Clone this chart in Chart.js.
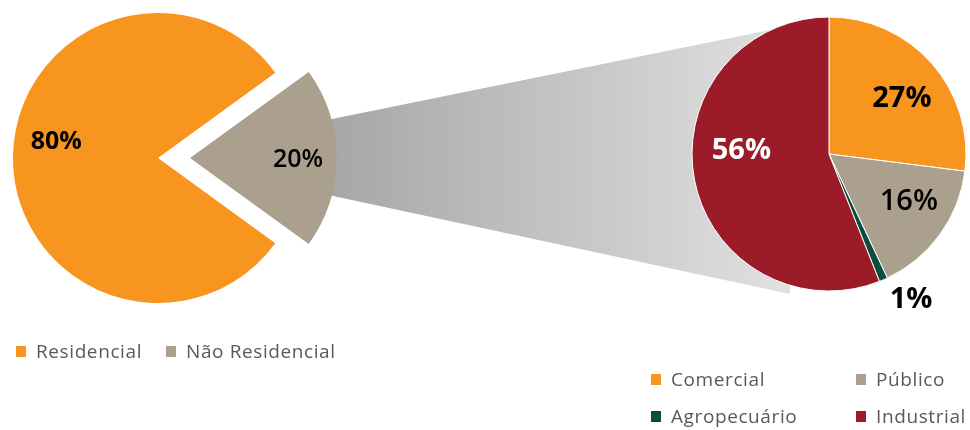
<!DOCTYPE html>
<html>
<head>
<script src="https://cdn.jsdelivr.net/npm/chart.js"></script>
<style>
  body { margin: 0; background: #fff; font-family: 'Open Sans', sans-serif; }
  #wrap { position: relative; width: 970px; height: 430px; overflow: hidden; }
  canvas { position: absolute; left: 0; top: 0; }
  .legend { position: absolute; font-size: 19px; letter-spacing: 0.6px; color: #595959; white-space: nowrap; }
  .item { position: absolute; display: flex; align-items: center; }
  .sw { width: 10px; height: 11px; margin-right: 10px; }
</style>
</head>
<body>
<div id="wrap">
  <canvas id="leftChart" width="970" height="430"></canvas>
  <canvas id="rightChart" width="970" height="430"></canvas>
  <div class="legend" id="leftLegend"></div>
  <div class="legend" id="rightLegend"></div>
</div>
<script>
  // totais: residencial x nao residencial
  var mainLabels = ['Residencial', 'Não Residencial'];
  var mainValues = [80, 20];
  var mainColors = ['#f7951e', '#aba08d'];

  // abertura do nao residencial
  var subLabels = ['Comercial', 'Público', 'Agropecuário', 'Industrial'];
  var subValues = [27, 16, 1, 56];
  var subColors = ['#f7951e', '#aba08d', '#0b4d3f', '#9b1b29'];

  // chart.js desloca a fatia em offset/4 pixels
  function shift(chart, i) {
    var o = chart.data.datasets[0].offset;
    return o ? (o[i] || 0) / 4 : 0;
  }

  // rotulos de porcentagem
  var pctLabels = {
    id: 'pctLabels',
    afterDatasetsDraw: function(chart, args, opts) {
      var ctx = chart.ctx;
      var meta = chart.getDatasetMeta(0);
      var data = chart.data.datasets[0].data;
      var total = data.reduce(function(a, b) { return a + b; }, 0);
      meta.data.forEach(function(arc, i) {
        var p = opts.pos[i];
        var off = shift(chart, i);
        var mid = (arc.startAngle + arc.endAngle) / 2;
        var cx = arc.x + Math.cos(mid) * off;
        var cy = arc.y + Math.sin(mid) * off;
        var a = mid + p[1] * Math.PI / 180;
        var r = arc.outerRadius * p[0];
        ctx.save();
        ctx.font = opts.weight[i] + ' ' + opts.size + 'px "Open Sans"';
        ctx.fillStyle = opts.color[i];
        ctx.textAlign = 'center';
        ctx.textBaseline = 'middle';
        ctx.fillText(Math.round(data[i] / total * 100) + '%', cx + Math.cos(a) * r, cy + Math.sin(a) * r);
        ctx.restore();
      });
    }
  };

  var rightChart = new Chart(document.getElementById('rightChart'), {
    type: 'pie',
    data: {
      labels: subLabels,
      datasets: [{
        data: subValues,
        backgroundColor: subColors,
        borderColor: '#ffffff',
        borderWidth: 1,
        clip: false
      }]
    },
    options: {
      responsive: false,
      animation: false,
      events: [],
      radius: 137,
      layout: { padding: { left: 692, right: 4, top: 17, bottom: 139 } },
      plugins: {
        legend: { display: false },
        tooltip: { enabled: false },
        pctLabels: {
          size: 29,
          pos: [[0.67, 4], [0.68, -5], [1.22, -6], [0.64, 13]],
          weight: ['bold', '600', 'bold', 'bold'],
          color: ['#000', '#000', '#000', '#fff']
        }
      }
    },
    plugins: [pctLabels]
  });

  // faixa cinza ligando a fatia destacada ao segundo grafico
  var connector = {
    id: 'connector',
    beforeDatasetsDraw: function(chart) {
      var rm = rightChart.getDatasetMeta(0).data[0];
      var arc = chart.getDatasetMeta(0).data[1];
      if (!rm || !arc) return;
      var off = shift(chart, 1);
      var mid = (arc.startAngle + arc.endAngle) / 2;
      var gx = arc.x + Math.cos(mid) * off;
      var gy = arc.y + Math.sin(mid) * off;
      var R = arc.outerRadius;
      var a1 = mid - 15.5 * Math.PI / 180, a2 = mid + 15 * Math.PI / 180;
      var p1 = [gx + Math.cos(a1) * (R - 4), gy + Math.sin(a1) * (R - 4)];
      var p5 = [gx + Math.cos(a2) * (R - 4), gy + Math.sin(a2) * (R - 4)];
      var cx = rm.x, cy = rm.y, r = rm.outerRadius;
      var bx = cx - 0.285 * r;
      var ctx = chart.ctx;
      ctx.save();
      var g = ctx.createLinearGradient(p1[0], gy, cx, gy);
      g.addColorStop(0, '#a6a6a6');
      g.addColorStop(1, '#e6e6e6');
      ctx.fillStyle = g;
      ctx.beginPath();
      ctx.moveTo(p1[0], p1[1]);
      ctx.lineTo(cx, cy - r + 1);
      ctx.lineTo(cx, cy);
      ctx.lineTo(bx, cy);
      ctx.lineTo(bx, cy + r + 3);
      ctx.lineTo(p5[0], p5[1]);
      ctx.closePath();
      ctx.fill();
      ctx.restore();
    }
  };

  var leftChart = new Chart(document.getElementById('leftChart'), {
    type: 'pie',
    data: {
      labels: mainLabels,
      datasets: [{
        data: mainValues,
        backgroundColor: mainColors,
        borderWidth: 0,
        offset: [0, 128],
        clip: false
      }]
    },
    options: {
      responsive: false,
      animation: false,
      events: [],
      radius: 145,
      rotation: 126,
      layout: { padding: { left: 13, right: 667, top: 13, bottom: 127 } },
      plugins: {
        legend: { display: false },
        tooltip: { enabled: false },
        pctLabels: {
          size: 25,
          pos: [[0.71, 9], [0.745, 1]],
          weight: ['bold', '600'],
          color: ['#000', '#000']
        }
      }
    },
    plugins: [connector, pctLabels]
  });

  // legendas
  function addItem(box, text, color, x, y) {
    var d = document.createElement('div');
    d.className = 'item';
    d.style.left = x + 'px';
    d.style.top = y + 'px';
    d.innerHTML = '<span class="sw" style="background:' + color + '"></span>' + text;
    box.appendChild(d);
  }
  var ll = document.getElementById('leftLegend');
  addItem(ll, mainLabels[0], mainColors[0], 16, 338);
  addItem(ll, mainLabels[1], mainColors[1], 166, 338);

  var rl = document.getElementById('rightLegend');
  var cols = [651, 856], rows = [366, 403];
  subLabels.forEach(function(lab, i) {
    addItem(rl, lab, subColors[i], cols[i % 2], rows[Math.floor(i / 2)]);
  });
</script>
</body>
</html>
